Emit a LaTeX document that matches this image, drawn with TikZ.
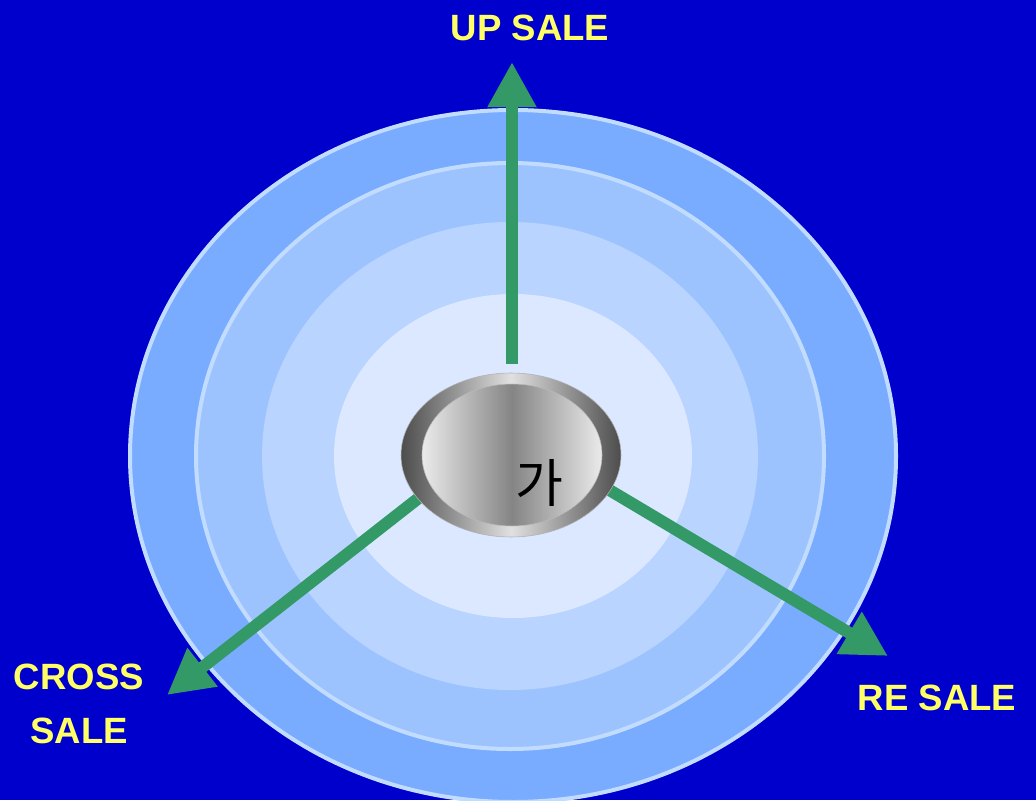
\documentclass[tikz,border=0pt]{standalone}
\usepackage{fontspec}
\setmainfont{Liberation Sans}
\newfontfamily\kofont{Noto Sans CJK KR}
\usepackage{xcolor}
\usetikzlibrary{arrows.meta, positioning}
\definecolor{bgblue}{HTML}{0000CC}
\definecolor{ringA}{HTML}{79ACFF}
\definecolor{ringB}{HTML}{9DC3FF}
\definecolor{ringC}{HTML}{B9D5FF}
\definecolor{ringD}{HTML}{DBE8FF}
\definecolor{ringedge}{HTML}{C2DCFF}
\definecolor{salegreen}{HTML}{339966}
\definecolor{saleyellow}{HTML}{FFFF66}
\tikzstyle{ring} = [draw=ringedge, line width=0.1cm]
\tikzstyle{salelabel} = [text=saleyellow, 
font=\fontsize{26}{38}\selectfont\bfseries, 
align=center]
\tikzstyle{salearrow} = [salegreen, line width=0.3cm, 
-{Triangle[length=1.13cm, width=1.15cm]}]

\begin{document}
\begin{tikzpicture}[x=0.025cm, y=-0.025cm]

        % --- fondo ---
        \fill [bgblue] (0,0) rectangle (1036,800);
        \useasboundingbox (0,0) rectangle (1036,800);
        \clip (0,0) rectangle (1036,800);

        % --- anillos ---
        \filldraw [ring, fill=ringA] (513,456) ellipse [x radius=383, y radius=346];
        \filldraw [ring, fill=ringB] (510,456) ellipse [x radius=314, y radius=293];
        \fill [ringC] (510,456) ellipse [x radius=248, y radius=234];
        \fill [ringD] (513,456) ellipse [x radius=179, y radius=162];

        % --- puntos de las flechas ---
        \coordinate (upstart) at (512,364);
        \coordinate (uptip) at (512,62);
        \coordinate (crossstart) at (420,497);
        \coordinate (crosstip) at (167,695);
        \coordinate (restart) at (606,488);
        \coordinate (retip) at (888,656);

        \draw [salearrow] (upstart) -- (uptip);
        \draw [salearrow] (crossstart) -- (crosstip);
        \draw [salearrow] (restart) -- (retip);

        % --- centro ---
        \draw [draw=gray!60, left color=black!70, right color=black!70, middle color=black!12]
            (511,455) ellipse [x radius=110, y radius=82];
        \draw [draw=gray!55, left color=black!8, right color=black!8, middle color=black!48]
            (512,455) ellipse [x radius=90, y radius=71];
        \node (center) at (539,483) {\kofont\fontsize{37}{37}\selectfont 가};

        % --- etiquetas ---
        \node (up) [salelabel] at (530,28) {UP SALE};
        \node (cross) [salelabel] at (79,704) {CROSS\\SALE};
        \node (re) [salelabel] at (937,698) {RE SALE};

    \end{tikzpicture}
\end{document}
